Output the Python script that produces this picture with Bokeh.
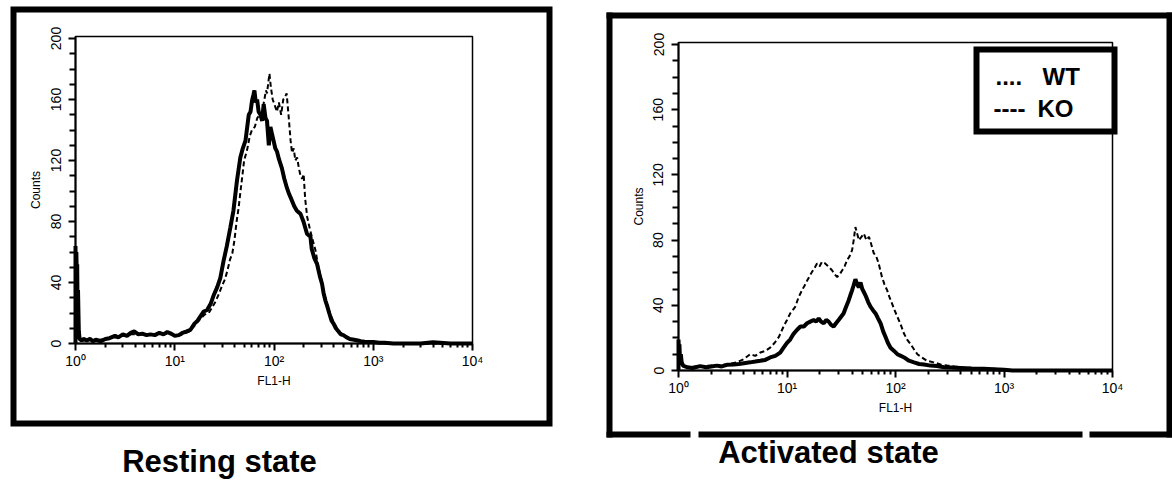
from bokeh.plotting import figure
from bokeh.models import Range1d, FixedTicker, LogAxis, LinearAxis, LogScale, Label
from bokeh.embed import file_html
from bokeh.resources import INLINE
import math

# ---------------- data ----------------
x_major = [1, 10, 100, 1000, 10000]
x_minor = [2, 3, 4, 5, 6, 7, 8, 9, 20, 30, 40, 50, 60, 70, 80, 90,
           200, 300, 400, 500, 600, 700, 800, 900, 2000, 3000, 4000, 5000, 6000, 7000, 8000, 9000]
x_labels = {1: "10⁰", 10: "10¹", 100: "10²", 1000: "10³", 10000: "10⁴"}
y_major = [0, 40, 80, 120, 160, 200]
y_minor = [10, 20, 30, 50, 60, 70, 90, 100, 110, 130, 140, 150, 170, 180, 190]

panel_titles = ["Resting state", "Activated state"]
legend_marks = ["....", "----"]
legend_names = ["WT", "KO"]

# Resting state, solid trace
rest_solid_x = [1.0, 1.0, 1.01, 1.02, 1.03, 1.04, 1.05, 1.06, 1.08, 1.1, 1.15, 1.2, 1.3, 1.4, 1.5, 1.6,
                1.8, 2.0, 2.2, 2.5, 2.7, 3.0, 3.3, 3.6, 3.9, 4.3, 4.7, 5.2, 5.7, 6.3, 7.0, 7.7, 8.4, 9.2,
                10.0, 11.0, 12.0, 13.2, 14.4, 15.8, 17.0, 18.2, 19.6, 21.2, 23.0, 24.8, 26.8, 28.8, 31.0,
                33.5, 36.3, 39.0, 42.4, 45.8, 48.5, 51.6, 55.7, 58.0, 60.0, 62.0, 63.5, 65.5, 67.6, 70.0,
                73.0, 76.0, 78.7, 82.0, 85.0, 88.7, 92.0, 95.0, 99.0, 103, 107, 112, 116, 120, 127, 135,
                142, 151, 160, 170, 185, 198, 215, 233, 240, 255, 272, 290, 305, 316, 330, 342, 360, 380,
                398, 420, 445, 470, 500, 540, 580, 640, 700, 745, 820, 900, 1000, 1150, 1300, 1600, 2000,
                3000, 4000, 6000, 10000]
rest_solid_y = [0, 64, 40, 60, 45, 52, 20, 35, 8, 3, 2, 3, 2, 3, 1.5, 2.5,
                1.5, 3, 3.5, 5, 4, 6, 5, 7, 8, 6, 6.5, 5.5, 6, 5.5, 7, 6, 7.5, 6.5,
                5, 5.5, 7, 8, 9, 13, 15, 18, 21, 22, 26, 32, 37, 43, 54,
                64, 76, 87, 107, 122, 128, 133, 150, 152, 159, 163, 166, 158, 160, 152,
                150, 146, 157, 148, 146, 130, 142, 138, 133, 128, 126, 121, 118, 115, 108, 102,
                98, 94, 90, 87, 85, 80, 72, 70, 62, 56, 52, 44, 39, 33, 28, 25, 20, 15,
                13, 10, 8, 6, 5.5, 4, 3, 2.5, 2, 1.5, 1.2, 1, 1, 0.5, 0.5, 0, 0,
                0, 0.8, 0, 0]

# Resting state, dashed trace
rest_dash_x = [1.0, 1.0, 1.01, 1.02, 1.03, 1.05, 1.07, 1.1, 1.2, 1.4, 1.6, 2.0, 2.5, 3.0, 3.6, 4.3,
               5.2, 6.3, 7.7, 9.2, 10.5, 12, 14, 16, 18, 20, 22, 24, 26, 28, 30, 32, 34, 36, 38, 40,
               42, 44, 46, 48, 50, 53.6, 57, 60, 64, 68, 72, 76, 80, 83, 85, 88, 90, 93, 97, 102,
               107, 112, 118, 124, 130, 134, 140, 147, 152, 158, 164, 171, 178, 185, 192, 199, 206,
               216, 230, 245, 262, 280, 300, 320, 345, 370, 400, 430, 470, 520, 580, 650, 750, 900,
               1100, 1400, 10000]
rest_dash_y = [0, 62, 30, 55, 40, 25, 10, 3, 2, 2.5, 2, 3, 4, 5, 6, 6,
               5.5, 6, 6.5, 6, 5, 6, 8, 12, 16, 19, 20, 24, 28, 33, 38, 42, 48, 55, 59, 68,
               80, 89, 100, 110, 120, 127, 136, 140, 142, 148, 150, 152, 160, 166, 164, 172, 177, 168, 160, 156,
               152, 158, 150, 160, 162, 164, 150, 133, 125, 128, 120, 122, 115, 110, 108, 111, 95,
               83, 75, 68, 61, 50, 42, 33, 25, 19, 14, 10, 7, 5, 3.5, 2.5, 1.5, 1,
               0.5, 0, 0]

# Activated state, solid trace
act_solid_x = [1.0, 1.0, 1.01, 1.02, 1.03, 1.05, 1.07, 1.1, 1.2, 1.35, 1.58, 1.8, 2.0, 2.26, 2.5, 2.8,
               3.22, 3.6, 4.0, 4.58, 5.1, 5.67, 6.3, 7.0, 7.8, 8.66, 9.3, 10, 10.7, 11.5, 12.4, 13.3,
               14.3, 15.3, 16.4, 17.6, 18.6, 19.6, 20.6, 21.8, 23, 24.2, 25.5, 26.9, 28.3, 29.9, 31.5,
               33.2, 35, 37, 38.3, 39.7, 41, 42.7, 44.2, 45.9, 47.6, 49.4, 51.2, 53, 56, 59, 62, 65.5,
               69, 72.8, 77, 81, 85, 90, 97, 104, 112, 120, 133, 148, 165, 183, 210, 241, 280, 330,
               400, 500, 650, 800, 1000, 1200, 10000]
act_solid_y = [0, 19, 12, 16, 8, 10, 5, 3, 2, 1.5, 2.7, 2, 2.5, 3, 2.5, 3.5,
               3.7, 4, 4.5, 5, 5.5, 6, 6.5, 8, 9, 11, 14, 17, 19, 22.5, 25, 27,
               27, 29, 30, 31, 30, 32, 30, 29, 31, 30, 28, 27, 29, 31, 33,
               35, 39, 43, 46, 49, 52, 56, 53, 51, 54, 50, 48, 46, 42, 39, 37, 35,
               32, 29, 24, 20.5, 17, 14, 12, 10, 9, 8, 6, 5, 4, 3.7, 3, 2.7, 2, 1.8,
               1.5, 1.2, 1, 0.8, 0.5, 0, 0]

# Activated state, dashed trace
act_dash_x = [1.0, 1.0, 1.02, 1.04, 1.07, 1.2, 1.5, 2.0, 2.6, 3.45, 4.0, 4.58, 5.1, 5.67, 6.3, 7.0,
              7.7, 8.4, 9.3, 10, 10.7, 11.9, 12.8, 13.7, 14.5, 15.3, 16.2, 17, 18, 18.9, 20, 21,
              22.2, 23.4, 24.7, 26, 27.5, 29, 30.6, 32.3, 34, 35.8, 37.7, 39.8, 41.2, 42.7, 44.3,
              46, 48.5, 51, 54, 57, 60, 63, 66.5, 70, 75, 79, 84, 88, 93, 98, 104, 112, 120, 128,
              137, 148, 159, 175, 195, 225, 260, 300, 350, 420, 520, 650, 800, 1000, 1200, 10000]
act_dash_y = [0, 18, 10, 6, 3, 2, 2.5, 3, 3.5, 5, 7, 10, 9, 11, 12, 14,
              17, 20.5, 27, 31, 35, 39, 45, 49, 52, 55, 58, 60.5, 63, 65.6, 64, 66.7,
              66, 64.6, 63, 61.5, 59, 57.4, 59, 61.5, 64, 67.7, 70, 73.8, 80, 88, 84,
              80, 82, 84, 80, 82, 77, 72, 70, 65.6, 57.4, 53, 49, 45, 41, 37, 33, 28, 22.5, 19,
              16.4, 13, 10, 8, 6, 5, 3.7, 3, 2.5, 2, 1.5, 1.2, 1, 0.5, 0, 0]

FONT = "Liberation Sans"
W, H = 1172, 480

# Canvas-wide figure; default ranges are pixel coordinates (y downward) used for the framing.
p = figure(width=W, height=H, x_range=Range1d(0, W), y_range=Range1d(H, 0),
           x_axis_location=None, y_axis_location=None,
           output_backend="svg", toolbar_location=None,
           min_border=0, min_border_left=0, min_border_right=0,
           min_border_top=0, min_border_bottom=0)
p.grid.visible = False
p.outline_line_color = None
p.background_fill_color = "white"
p.border_fill_color = "white"

extra_x, extra_y, extra_xs = {}, {}, {}


def panel_ranges(key, px0, px1, py0, py200):
    # axis spans x_major[0]..x_major[-1] between pixels px0..px1, counts 0..200 between py0..py200
    ndec = math.log10(x_major[-1] / x_major[0])
    k = (px1 - px0) / ndec
    xs = x_major[0] * 10 ** (-px0 / k)
    xe = x_major[-1] * 10 ** ((W - px1) / k)
    ky = (py0 - py200) / 200.0
    ys = -(H - py0) / ky
    ye = 200 + py200 / ky
    extra_x[key] = Range1d(xs, xe)
    extra_xs[key] = LogScale()
    extra_y[key] = Range1d(ys, ye)
    return ky


ky_rest = panel_ranges("rest", 75, 472, 343, 38)
ky_act = panel_ranges("act", 678, 1112, 370, 44)
p.extra_x_ranges = extra_x
p.extra_x_scales = extra_xs
p.extra_y_ranges = extra_y


def style_axis(ax):
    ax.axis_line_width = 2
    ax.major_tick_line_width = 2
    ax.minor_tick_line_width = 2
    ax.major_tick_in = 0
    ax.minor_tick_in = 0
    ax.major_label_text_font = FONT
    ax.major_label_text_color = "black"
    ax.axis_label_text_font = FONT
    ax.axis_label_text_font_style = "normal"
    ax.axis_label_text_font_size = "12px"
    ax.axis_label_text_color = "black"


def draw_panel(key, ytop, solid_x, solid_y, dash_x, dash_y):
    # thin box around the histogram area
    p.quad(left=[x_major[0]], right=[x_major[-1]], bottom=[0], top=[ytop],
           x_range_name=key, y_range_name=key,
           fill_color=None, line_color="black", line_width=1.5)
    p.line(dash_x, dash_y, x_range_name=key, y_range_name=key,
           line_color="black", line_width=2, line_dash="5 3")
    p.line(solid_x, solid_y, x_range_name=key, y_range_name=key,
           line_color="black", line_width=4)

    xa = LogAxis(x_range_name=key, y_range_name=key, fixed_location=0,
                 bounds=(x_major[0], x_major[-1]),
                 ticker=FixedTicker(ticks=x_major, minor_ticks=x_minor),
                 major_label_overrides=x_labels, axis_label="FL1-H")
    style_axis(xa)
    xa.major_tick_out = 7
    xa.minor_tick_out = 4
    xa.major_label_text_font_size = "14px"
    xa.major_label_standoff = 2
    xa.axis_label_standoff = 2
    p.add_layout(xa, "below")

    ya = LinearAxis(x_range_name=key, y_range_name=key, fixed_location=x_major[0],
                    bounds=(0, ytop),
                    ticker=FixedTicker(ticks=y_major, minor_ticks=y_minor),
                    axis_label="Counts")
    style_axis(ya)
    ya.major_label_orientation = "vertical"
    ya.major_tick_out = 7
    ya.minor_tick_out = 6
    ya.major_label_text_font_size = "14px"
    ya.major_label_standoff = 8
    ya.axis_label_standoff = 5
    p.add_layout(ya, "left")


draw_panel("rest", (343 - 36) / ky_rest, rest_solid_x, rest_solid_y, rest_dash_x, rest_dash_y)
draw_panel("act", (370 - 42) / ky_act, act_solid_x, act_solid_y, act_dash_x, act_dash_y)

# ---------------- framing (pixel coordinates) ----------------
# left panel: closed thick frame
p.quad(left=[13], right=[549], top=[9], bottom=[423],
       fill_color=None, line_color="black", line_width=6, line_join="miter")
# right panel: thick frame whose bottom edge is broken in two places
p.segment(x0=[606, 609, 1169, 606, 698, 1089], y0=[15, 12, 12, 434, 434, 434],
          x1=[1172, 609, 1169, 690, 1082, 1172], y1=[15, 437, 437, 434, 434, 434],
          line_color="black", line_width=6, line_cap="butt")

# legend box
p.quad(left=[976], right=[1114], top=[49], bottom=[131],
       fill_color="white", line_color="black", line_width=6, line_join="miter")
for txt, x, y in [(legend_marks[0], 995, 76), (legend_names[0], 1042, 76),
                  (legend_marks[1], 993, 108), (legend_names[1], 1037, 108)]:
    p.add_layout(Label(x=x, y=y, text=txt, text_font=FONT, text_font_style="bold",
                       text_font_size="24px", text_align="left", text_baseline="alphabetic",
                       text_color="black"))

# panel captions
for txt, x, y in [(panel_titles[0], 219, 461), (panel_titles[1], 828, 452)]:
    p.add_layout(Label(x=x, y=y, text=txt, text_font=FONT, text_font_style="bold",
                       text_font_size="31px", text_align="center", text_baseline="alphabetic",
                       text_color="black"))

open("out.html", "w").write(file_html(p, INLINE))
